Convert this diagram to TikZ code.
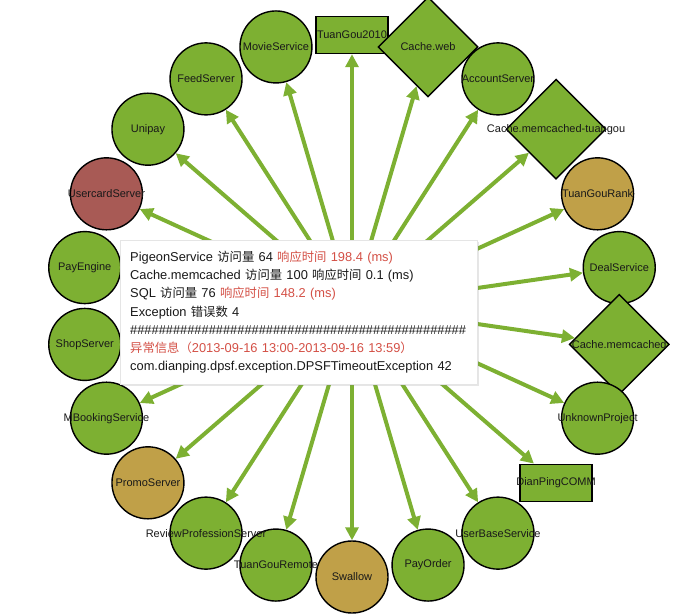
\documentclass[tikz,border=0pt]{standalone}
\usepackage{fontspec}
\setmainfont{Liberation Sans}
\newfontfamily\cjk[Scale=0.96]{Noto Sans CJK SC}
\usetikzlibrary{shapes.geometric,arrows.meta,shadows}
\definecolor{okgreen}{RGB}{125,176,50}
\definecolor{warntan}{RGB}{192,160,72}
\definecolor{errred}{RGB}{168,90,85}
\definecolor{msred}{RGB}{212,80,70}
\begin{document}
\begin{tikzpicture}[x=1pt, y=1pt,
  every label/.style={font=\fontsize{11}{13}\selectfont, text=black!90, inner sep=0pt},
  svc/.style={draw, line width=1.4pt, circle, minimum size=72pt, inner sep=0pt, fill=okgreen},
  cachebox/.style={draw, line width=1.4pt, diamond, minimum width=100pt, minimum height=100pt, inner sep=0pt, fill=okgreen},
  projbox/.style={draw, line width=1.4pt, rectangle, minimum width=72pt, minimum height=37pt, inner sep=0pt, fill=okgreen},
  link/.style={draw=okgreen, line width=4pt, -{Triangle[length=13pt,width=13pt]}},
  tipbox/.style={fill=white, draw=black!10, drop shadow={shadow xshift=2pt, shadow yshift=-2pt, opacity=0.2},
    align=left, text width=337pt, inner xsep=10pt, minimum height=144pt, text=black!90,
    font=\fontsize{12.85}{18.2}\selectfont}]
  \useasboundingbox (-352,306) rectangle (330,-308);
  \coordinate (hub) at (0,0);
  \node[svc, label=center:TuanGouRemote] (tgremote) at (-106.36:270) {};
  \node[svc, label=center:ReviewProfessionServer] (review) at (-122.73:270) {};
  \node[svc, fill=warntan, label=center:PromoServer] (promo) at (-139.09:270) {};
  \node[svc, label=center:MBookingService] (mbooking) at (-155.45:270) {};
  \node[svc, label=center:ShopServer] (shop) at (-171.82:270) {};
  \node[svc, label=center:PayEngine] (payengine) at (171.82:270) {};
  \node[svc, fill=errred, label=center:UsercardServer] (usercard) at (155.45:270) {};
  \node[svc, label=center:Unipay] (unipay) at (139.09:270) {};
  \node[svc, label=center:FeedServer] (feed) at (122.73:270) {};
  \node[svc, label=center:MovieService] (movie) at (106.36:270) {};
  \node[projbox, label=center:TuanGou2010] (tg2010) at (90:271) {};
  \node[cachebox, label=center:Cache.web] (cacheweb) at (73.64:270) {};
  \node[svc, label=center:AccountServer] (account) at (57.27:270) {};
  \node[cachebox, label=center:Cache.memcached-tuangou] (mctuangou) at (40.91:270) {};
  \node[svc, fill=warntan, label=center:TuanGouRank] (tgrank) at (24.55:270) {};
  \node[svc, label=center:DealService] (deal) at (8.18:270) {};
  \node[cachebox, label=center:Cache.memcached] (memcached) at (-8.18:270) {};
  \node[svc, label=center:UnknownProject] (unknown) at (-24.55:270) {};
  \node[projbox, label=center:DianPingCOMM] (dpcomm) at (-40.91:270) {};
  \node[svc, label=center:UserBaseService] (userbase) at (-57.27:270) {};
  \node[svc, label=center:PayOrder] (payorder) at (-73.64:270) {};
  \node[svc, fill=warntan, label=center:Swallow] (swallow) at (-90:271) {};
  \draw[link] (hub) -- (tg2010);
  \draw[link] (hub) -- (cacheweb);
  \draw[link] (hub) -- (account);
  \draw[link] (hub) -- (mctuangou);
  \draw[link] (hub) -- (tgrank);
  \draw[link] (hub) -- (deal);
  \draw[link] (hub) -- (memcached);
  \draw[link] (hub) -- (unknown);
  \draw[link] (hub) -- (dpcomm);
  \draw[link] (hub) -- (userbase);
  \draw[link] (hub) -- (payorder);
  \draw[link] (hub) -- (swallow);
  \draw[link] (hub) -- (tgremote);
  \draw[link] (hub) -- (review);
  \draw[link] (hub) -- (promo);
  \draw[link] (hub) -- (mbooking);
  \draw[link] (hub) -- (shop);
  \draw[link] (hub) -- (payengine);
  \draw[link] (hub) -- (usercard);
  \draw[link] (hub) -- (unipay);
  \draw[link] (hub) -- (feed);
  \draw[link] (hub) -- (movie);
  % statistics tooltip
  \node[tipbox, anchor=north west] (stats) at (-232,66) {%
    PigeonService {\cjk 访问量} 64 \textcolor{msred}{{\cjk 响应时间} 198.4 (ms)}\\
    Cache.memcached {\cjk 访问量} 100 {\cjk 响应时间} 0.1 (ms)\\
    SQL {\cjk 访问量} 76 \textcolor{msred}{{\cjk 响应时间} 148.2 (ms)}\\
    Exception {\cjk 错误数} 4\\
    \#\#\#\#\#\#\#\#\#\#\#\#\#\#\#\#\#\#\#\#\#\#\#\#\#\#\#\#\#\#\#\#\#\#\#\#\#\#\#\#\#\#\#\#\#\#\#\\
    \textcolor{msred}{{\cjk 异常信息（}2013-09-16 13:00-2013-09-16 13:59{\cjk ）}}\\
    com.dianping.dpsf.exception.DPSFTimeoutException 42};
\end{tikzpicture}
\end{document}
